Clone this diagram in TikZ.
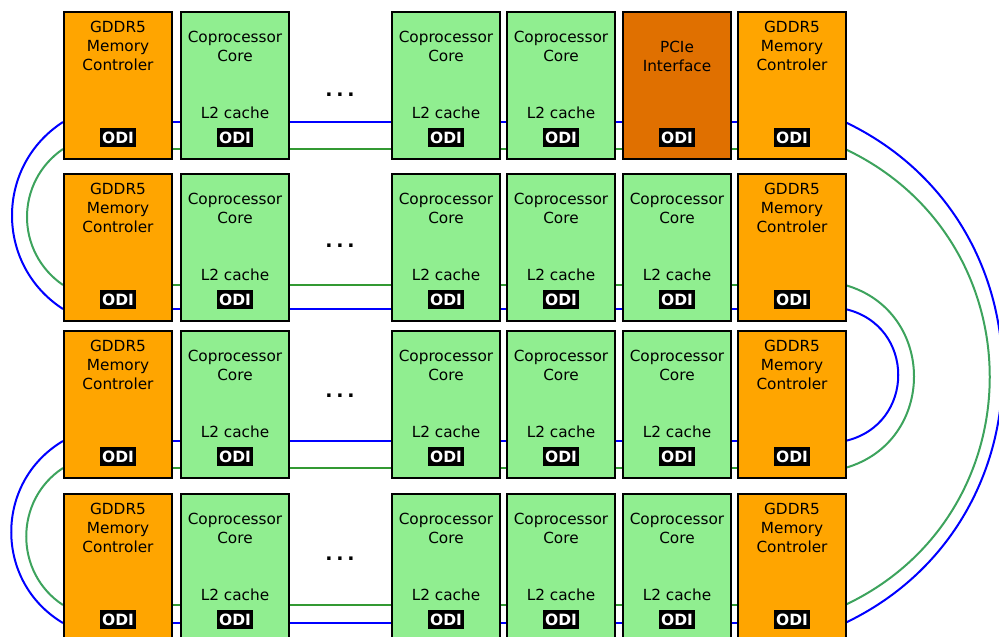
\documentclass[tikz,border=0pt]{standalone}
\usepackage{fontspec}
\setmainfont{DejaVu Sans}
\usepackage{xcolor}
\usetikzlibrary{positioning}

\definecolor{memorange}{HTML}{FFA500}
\definecolor{pcieorange}{HTML}{E07000}
\definecolor{coregreen}{HTML}{90EE90}
\definecolor{lanegreen}{HTML}{339933}
\definecolor{ringgreen}{HTML}{3DA35D}

\begin{document}
\begin{tikzpicture}[
    x=1pt, y=-1pt,
    every node/.style={font=\fontsize{15.3}{19}\selectfont, inner sep=0pt},
    unit/.style={draw=black, line width=2pt, anchor=north west, minimum width=108pt, minimum height=147pt},
    memunit/.style={unit, fill=memorange},
    coreunit/.style={unit, fill=coregreen},
    pcieunit/.style={unit, fill=pcieorange},
    caption/.style={align=center, anchor=north},
    odi/.style={fill=black, text=white, font=\fontsize{15.5}{19}\selectfont\bfseries, inner xsep=2.4pt, inner ysep=3.4pt},
    ellipsis/.style={font=\fontsize{19}{19}\selectfont\bfseries},
    bluelane/.style={draw=blue, line width=2pt},
    greenlane/.style={draw=lanegreen, line width=2pt},
    bluering/.style={draw=blue, line width=2pt},
    greenring/.style={draw=ringgreen, line width=2pt}
]
\useasboundingbox (0,0) rectangle (999,637);
\clip (0,0) rectangle (999,637);

\foreach \r/\by/\gy in {1/122/149, 2/309/285, 3/441/468, 4/623/605} {
    \coordinate (bw\r) at (63,\by);
    \coordinate (be\r) at (845,\by);
    \coordinate (gw\r) at (63,\gy);
    \coordinate (ge\r) at (845,\gy);
    \draw[bluelane] (bw\r) -- (be\r);
    \draw[greenlane] (gw\r) -- (ge\r);
}

\draw[bluering] (bw1) .. controls +(-68,44) and +(-68,-44) .. (bw2);
\draw[greenring] (gw1) .. controls +(-48,33) and +(-48,-33) .. (gw2);
\draw[bluering] (bw3) .. controls +(-69,41) and +(-69,-41) .. (bw4);
\draw[greenring] (gw3) .. controls +(-49,32) and +(-49,-32) .. (gw4);
\draw[bluering] (be1) .. controls +(210,100) and +(210,-100) .. (be4);
\draw[greenring] (ge1) .. controls +(193,91) and +(193,-91) .. (ge4);
\draw[greenring] (ge2) .. controls +(92,26) and +(92,-26) .. (ge3);
\draw[bluering] (be2) .. controls +(71,16) and +(71,-16) .. (be3);

\foreach \r/\top/\dy in {1/11/95, 2/173/246, 3/330/396, 4/493/559} {
    \node[memunit] (ctlw\r) at (63,\top) {};
    \node[caption, below=10pt of ctlw\r.north] {GDDR5\\Memory\\Controler};
    \node[odi, below=117pt of ctlw\r.north] {ODI};
    \foreach \c/\x in {2/180, 3/391, 4/506, 5/622} {
        \ifnum\r\c=15\relax
            \node[pcieunit] (pcie) at (\x,\top) {};
            \node[caption, below=30pt of pcie.north] {PCIe\\Interface};
            \node[odi, below=117pt of pcie.north] {ODI};
        \else
            \node[coreunit] (core\r\c) at (\x,\top) {};
            \node[caption, below=20pt of core\r\c.north] {Coprocessor\\Core};
            \node[caption, below=96pt of core\r\c.north] {L2 cache};
            \node[odi, below=117pt of core\r\c.north] {ODI};
        \fi
    }
    \node[memunit] (ctle\r) at (737,\top) {};
    \node[caption, below=10pt of ctle\r.north] {GDDR5\\Memory\\Controler};
    \node[odi, below=117pt of ctle\r.north] {ODI};
    \node[ellipsis] (dots\r) at (340,\dy) {.\hspace{3.8pt}.\hspace{3.8pt}.};
}
\end{tikzpicture}
\end{document}
